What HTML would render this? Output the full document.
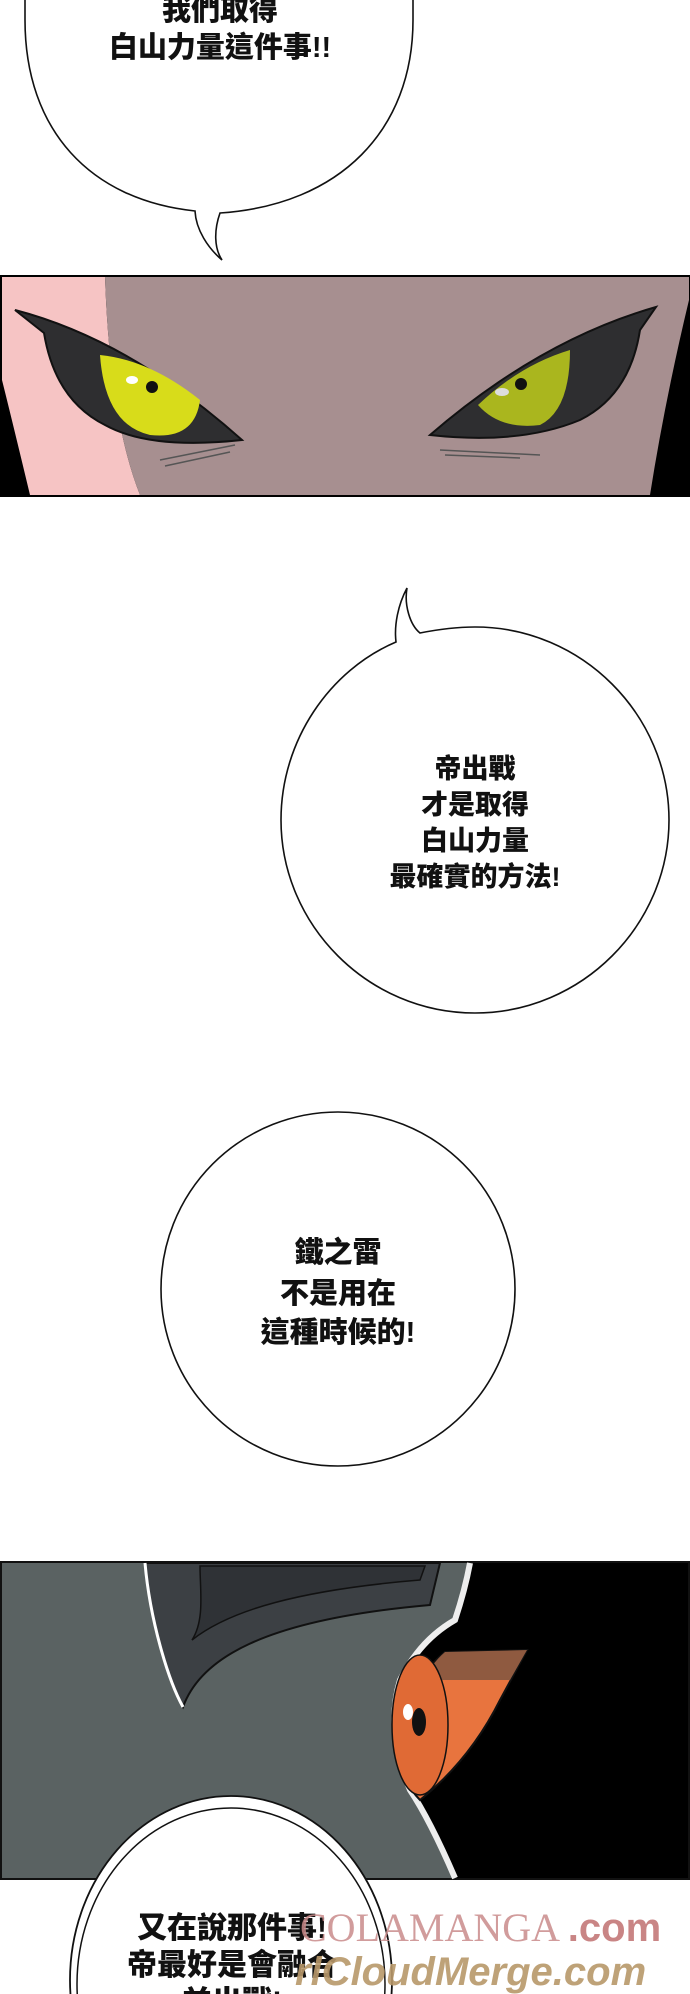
<!DOCTYPE html>
<html><head><meta charset="utf-8">
<style>
html,body{margin:0;padding:0;background:#fff;}
body{width:690px;height:1994px;overflow:hidden;position:relative;}
svg{position:absolute;left:0;top:0;overflow:hidden;}
.t{font-family:"Liberation Sans","Noto Sans CJK TC","Noto Sans CJK SC",sans-serif;font-weight:900;fill:#111;text-anchor:middle;}
</style></head>
<body>
<svg width="690" height="1994" viewBox="0 0 690 1994" xmlns="http://www.w3.org/2000/svg">
<!-- Bubble 1 -->
<path d="M195 211 C 90 200, 25 130, 25 20 L 25 -5 L 413 -5 L 413 20 C 413 130, 340 205, 220 213 C 214 230, 214 248, 222 260 C 208 248, 196 230, 195 211 Z" fill="#fff" stroke="#111" stroke-width="1.6"/>
<text class="t" x="220" y="20" font-size="29">我們取得</text>
<text class="t" x="220" y="57" font-size="29">白山力量這件事!!</text>

<!-- Panel 1 eyes -->
<rect x="0" y="275" width="690" height="222" fill="#000"/>
<path d="M2 277 L105 277 Q 110 420 140 495 L 30 495 Q 12 420 2 380 Z" fill="#f6c4c4"/>
<path d="M105 277 L689 277 L 689 300 Q 665 400 650 495 L 140 495 Q 110 420 105 277 Z" fill="#a78f90"/>
<!-- left eye -->
<path d="M15 310 Q 130 340 242 440 Q 150 450 105 425 Q 55 400 44 333 Z" fill="#2e2e30" stroke="#111" stroke-width="2"/>
<path d="M100 355 Q 150 360 200 400 Q 195 440 150 435 Q 105 425 100 355 Z" fill="#d8dc1a"/>
<circle cx="152" cy="387" r="6" fill="#111"/>
<ellipse cx="132" cy="380" rx="6" ry="4" fill="#fff"/>
<!-- right eye -->
<path d="M656 307 Q 540 340 430 435 Q 520 445 580 420 Q 630 395 640 330 Z" fill="#2e2e30" stroke="#111" stroke-width="2"/>
<path d="M570 350 Q 520 365 478 405 Q 500 430 540 425 Q 570 410 570 350 Z" fill="#aab61e"/>
<circle cx="521" cy="384" r="6" fill="#111"/>
<ellipse cx="502" cy="392" rx="7" ry="4" fill="#ddd"/>
<path d="M440 450 L 540 455 M 445 455 L 520 458" stroke="#555" stroke-width="1.5"/>
<path d="M160 460 L 235 445 M 165 466 L 230 452" stroke="#555" stroke-width="1.5"/>

<!-- Bubble 2 -->
<path d="M396 642 C 330 670, 281 740, 281 820 C 281 925, 368 1013, 475 1013 C 582 1013, 669 925, 669 820 C 669 715, 582 627, 475 627 C 455 627, 435 630, 420 633 C 410 625, 404 605, 407 588 C 398 605, 394 625, 396 642 Z" fill="#fff" stroke="#111" stroke-width="1.6"/>
<text class="t" x="475" y="778" font-size="27">帝出戰</text>
<text class="t" x="475" y="814" font-size="27">才是取得</text>
<text class="t" x="475" y="850" font-size="27">白山力量</text>
<text class="t" x="475" y="886" font-size="27">最確實的方法!</text>

<!-- Bubble 3 -->
<ellipse cx="338" cy="1289" rx="177" ry="177" fill="#fff" stroke="#111" stroke-width="1.6"/>
<text class="t" x="338" y="1262" font-size="29">鐵之雷</text>
<text class="t" x="338" y="1303" font-size="29">不是用在</text>
<text class="t" x="338" y="1342" font-size="29">這種時候的!</text>

<!-- Panel 2 -->
<rect x="0" y="1561" width="690" height="319" fill="#111"/>
<rect x="2" y="1563" width="686" height="315" fill="#5a6262"/>
<path d="M470 1563 L 688 1563 L 688 1878 L 455 1878 Q 430 1820 410 1790 Q 385 1730 400 1680 Q 420 1640 455 1620 Q 465 1590 470 1563 Z" fill="#000"/>
<path d="M470 1563 Q 465 1590 455 1620 Q 420 1640 400 1680 Q 385 1730 410 1790 Q 430 1820 455 1878" fill="none" stroke="#eee" stroke-width="6"/>
<path d="M145 1563 C 150 1620, 168 1680, 183 1707 C 200 1660, 260 1620, 430 1605 L 440 1563 Z" fill="#3c4044" stroke="#111" stroke-width="2"/>
<path d="M145 1563 C 150 1620, 168 1680, 183 1707" fill="none" stroke="#fff" stroke-width="3"/>
<path d="M200 1566 C 200 1590, 205 1620, 192 1640 C 230 1610, 300 1590, 420 1580 L 425 1566 Z" fill="#2f3236" stroke="#111" stroke-width="1.5"/>
<!-- orange eye -->
<path d="M527 1650 L 445 1652 Q 400 1690 395 1740 Q 400 1780 420 1800 Q 470 1760 500 1700 Z" fill="#e8743e" stroke="#111" stroke-width="2"/>
<path d="M527 1650 L 445 1652 Q 430 1665 425 1680 L 510 1680 Z" fill="#8f5a40"/>
<ellipse cx="420" cy="1725" rx="28" ry="70" fill="#e06a35" stroke="#111" stroke-width="1.5"/>
<ellipse cx="419" cy="1722" rx="7" ry="14" fill="#111"/>
<ellipse cx="408" cy="1712" rx="5" ry="8" fill="#fff"/>

<!-- Bubble 4 -->
<ellipse cx="231" cy="1980" rx="161" ry="184" fill="#fff" stroke="#111" stroke-width="1.8"/>
<ellipse cx="231" cy="1984" rx="154" ry="176" fill="none" stroke="#111" stroke-width="1.5"/>
<text class="t" x="232" y="1938" font-size="30">又在說那件事!</text>
<text class="t" x="232" y="1975" font-size="30">帝最好是會融合</text>
<text class="t" x="232" y="2012" font-size="30">並出戰!</text>
<!-- watermark -->
<text x="300" y="1941" font-family="Liberation Serif,serif" font-size="40" fill="#c98b8b" opacity="0.85">COLAMANGA <tspan font-family="Liberation Sans,sans-serif" font-weight="bold" fill="#c07070">.com</tspan></text>
<text x="295" y="1985" font-family="Liberation Sans,sans-serif" font-style="italic" font-weight="bold" font-size="40" fill="#b8986a" opacity="0.9">rlCloudMerge.com</text>
</svg>
</body></html>
